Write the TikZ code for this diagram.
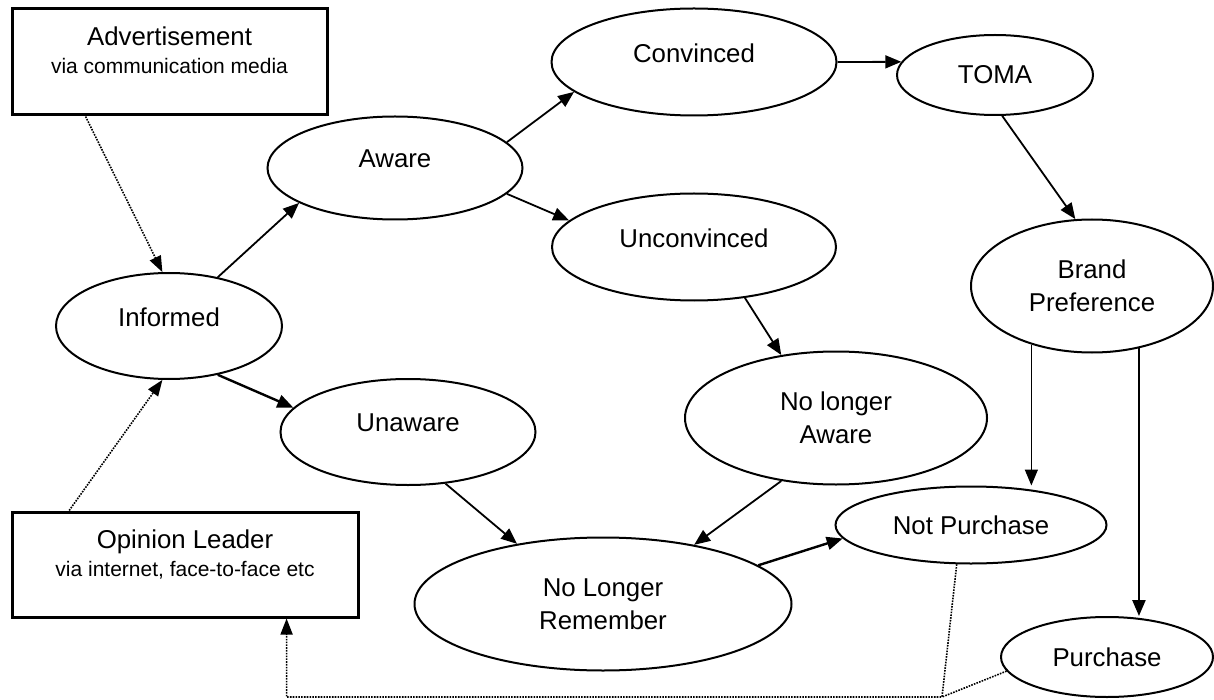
\documentclass[tikz,border=0pt]{standalone}
\usepackage{fontspec}
\setmainfont{Liberation Sans}
\usetikzlibrary{shapes.geometric,arrows.meta,positioning}
\newcommand{\mainsz}{\fontsize{25.8}{33}\selectfont}
\newcommand{\subsz}{\fontsize{21}{28}\selectfont}

\tikzset{
  state/.style={ellipse,draw,line width=2pt,font=\mainsz,align=center,inner sep=0pt},
  lifted/.style={text depth=18.5pt},
  medium/.style={rectangle,draw,line width=3pt,inner sep=0pt},
  mediumtxt/.style={align=center,font=\subsz,inner sep=0pt},
  arr/.style={line width=1.8pt,-{Triangle[length=16pt,width=13pt]}},
  heavy/.style={line width=2.4pt},
  light/.style={line width=1.5pt},
  fb/.style={line width=1.6pt,dash pattern=on 1.6pt off 1.2pt,-{Triangle[length=16pt,width=12pt]}}
}

\begin{document}
\begin{tikzpicture}[x=1pt,y=-1pt]
  \useasboundingbox (0,0) rectangle (1214,700);
  % where the message comes from
  \node[medium,minimum width=315pt,minimum height=106pt] (adv) at (169.5,62) {};
  \node[mediumtxt,below=19pt of adv.north] (advtxt) {{\mainsz Advertisement}\\via communication media};
  \node[medium,minimum width=346pt,minimum height=105pt] (opin) at (185,564.5) {};
  \node[mediumtxt,below=19pt of opin.north] (opintxt) {{\mainsz Opinion Leader}\\via internet, face-to-face etc};
  % states
  \node[state,lifted,minimum width=226pt,minimum height=106pt] (inf) at (169,326) {Informed};
  \node[state,lifted,minimum width=255pt,minimum height=103pt] (aware) at (395,168) {Aware};
  \node[state,lifted,minimum width=285pt,minimum height=107pt] (conv) at (694,62) {Convinced};
  \node[state,minimum width=196pt,minimum height=80pt] (toma) at (995,75) {TOMA};
  \node[state,lifted,minimum width=284pt,minimum height=107pt] (uncon) at (694,247) {Unconvinced};
  \node[state,minimum width=242pt,minimum height=133pt] (brand) at (1092,286) {Brand\\Preference};
  \node[state,lifted,minimum width=255pt,minimum height=106pt] (unaw) at (408,432) {Unaware};
  \node[state,minimum width=302pt,minimum height=133pt] (nlaw) at (836,418) {No longer\\Aware};
  \node[state,minimum width=377pt,minimum height=133pt] (nlrem) at (603,604) {No Longer\\Remember};
  \node[state,minimum width=271pt,minimum height=77pt] (notp) at (971,525) {Not Purchase};
  \node[state,minimum width=212pt,minimum height=80pt] (purch) at (1107,657) {Purchase};
  % flows
  \draw[fb] (adv.213) -- (inf.97);
  \draw[fb] (opin.155) -- (inf.263);
  \draw[arr] (inf.45) -- (aware.200);
  \draw[arr,heavy] (inf.-45) -- (unaw.168);
  \draw[arr] (aware.13) -- (conv.194);
  \draw[arr] (aware.-13) -- (uncon.168);
  \draw[arr] (conv.east) -- (toma.172);
  \draw[arr] (toma.-80) -- (brand.104);
  \draw[arr] (uncon.-45) -- (nlaw.131);
  \draw[arr] (nlaw.229) -- (nlrem.33);
  \draw[arr] (unaw.-54) -- (nlrem.145);
  \draw[arr,heavy] (nlrem.14) -- (notp.186);
  \draw[arr,light] (brand.224) -- (brand.224 |- notp.north);
  \draw[arr,heavy] (brand.-53) -- (brand.-53 |- purch.north);
  % feedback to opinion leader
  \coordinate (junc) at (942,697);
  \draw[fb] (notp.250) -- (junc) -| (opin.-28);
  \draw[fb,-] (purch.188) -- (junc);
\end{tikzpicture}
\end{document}
